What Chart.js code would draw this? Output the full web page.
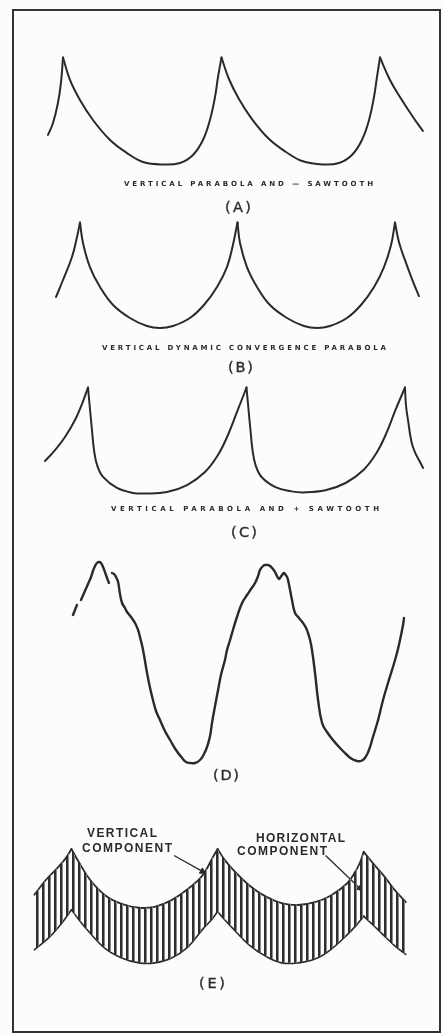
<!DOCTYPE html>
<html><head><meta charset="utf-8">
<script src="https://cdn.jsdelivr.net/npm/chart.js@4.4.1/dist/chart.umd.min.js"></script>
<style>
html,body{margin:0;padding:0;background:#fcfcfa;}
#page{position:relative;width:443px;height:1034px;overflow:hidden;background:#fcfcfa;}
#frame{position:absolute;left:12px;top:9px;width:425px;height:1020px;border:2px solid #333;border-left-width:2.5px;}
canvas{position:absolute;left:0;}
svg{position:absolute;left:0;top:0;}
.cap{font-family:"DejaVu Sans",sans-serif;font-size:7px;font-weight:bold;fill:#2a2a2a;}
.lab{font-family:"DejaVu Sans",sans-serif;font-size:14.5px;fill:#2a2a2a;stroke:#2a2a2a;stroke-width:0.35px;}
.blab{font-family:"Liberation Sans",Arial,sans-serif;font-size:12px;font-weight:bold;fill:#2a2a2a;}
</style></head><body>
<div id="page">
<div id="frame"></div>
<canvas id="cA"></canvas>
<canvas id="cB"></canvas>
<canvas id="cC"></canvas>
<canvas id="cD"></canvas>
<canvas id="cE"></canvas>
<svg width="443" height="1034" viewBox="0 0 443 1034">
  <text class="cap" x="124" y="184" dominant-baseline="central" textLength="249" lengthAdjust="spacing">VERTICAL PARABOLA AND — SAWTOOTH</text>
  <text class="lab" x="225" y="207" dominant-baseline="central" textLength="26" lengthAdjust="spacing">(A)</text>
  <text class="cap" x="102" y="348" dominant-baseline="central" textLength="284" lengthAdjust="spacing">VERTICAL DYNAMIC CONVERGENCE PARABOLA</text>
  <text class="lab" x="228" y="367" dominant-baseline="central" textLength="25" lengthAdjust="spacing">(B)</text>
  <text class="cap" x="111" y="509" dominant-baseline="central" textLength="268" lengthAdjust="spacing">VERTICAL PARABOLA AND + SAWTOOTH</text>
  <text class="lab" x="231" y="532" dominant-baseline="central" textLength="26" lengthAdjust="spacing">(C)</text>
  <text class="lab" x="213" y="775" dominant-baseline="central" textLength="26" lengthAdjust="spacing">(D)</text>
  <text class="blab" x="87" y="833" dominant-baseline="central" textLength="70" lengthAdjust="spacing">VERTICAL</text>
  <text class="blab" x="82" y="848" dominant-baseline="central" textLength="90" lengthAdjust="spacing">COMPONENT</text>
  <text class="blab" x="256" y="838" dominant-baseline="central" textLength="89" lengthAdjust="spacing">HORIZONTAL</text>
  <text class="blab" x="237" y="851" dominant-baseline="central" textLength="90" lengthAdjust="spacing">COMPONENT</text>
  <text class="lab" x="199" y="983" dominant-baseline="central" textLength="26" lengthAdjust="spacing">(E)</text>
</svg>
</div>
<script>
// ---- data: time in vertical-field periods, level as relative amplitude ----
const aTime  = [-0.095,-0.063,-0.032,-0.013,0, 0.044,0.107,0.189,0.297,0.404,0.505,0.631,0.738,0.820,0.883,0.927,0.959,0.978,1.0, 1.047,1.110,1.192,1.300,1.407,1.508,1.640,1.741,1.823,1.886,1.931,1.962,1.981,2.0, 2.063,2.126,2.208,2.271];
const aLevel = [0.276,0.388,0.575,0.762,1.0, 0.79,0.603,0.416,0.229,0.107,0.023,0.0,0.014,0.089,0.229,0.416,0.631,0.818,1.0, 0.799,0.612,0.425,0.238,0.117,0.033,0.0,0.014,0.089,0.229,0.416,0.631,0.818,1.0, 0.79,0.631,0.444,0.313];

const bTime  = [-0.152,-0.108,-0.051,-0.019,0, 0.019,0.063,0.127,0.21,0.317,0.425,0.508,0.59,0.698,0.787,0.87,0.933,0.971,1.0, 1.016,1.06,1.124,1.206,1.314,1.422,1.505,1.587,1.695,1.784,1.867,1.930,1.975,2.0, 2.025,2.063,2.108,2.152];
const bLevel = [0.294,0.455,0.673,0.863,1.0, 0.806,0.578,0.389,0.218,0.095,0.019,0,0.019,0.095,0.218,0.389,0.578,0.787,1.0, 0.806,0.578,0.389,0.218,0.095,0.019,0,0.019,0.095,0.218,0.389,0.578,0.787,1.0, 0.815,0.645,0.464,0.303];

const cTime  = [-0.271,-0.208,-0.145,-0.082,-0.038,0, 0.013,0.025,0.038,0.057,0.095,0.183,0.284,0.36,0.498,0.625,0.738,0.82,0.883,0.94,1.0, 1.013,1.025,1.038,1.057,1.095,1.183,1.284,1.36,1.498,1.625,1.738,1.82,1.883,1.94,2.0, 2.006,2.019,2.05,2.114];
const cLevel = [0.307,0.41,0.533,0.693,0.844,1.0, 0.788,0.599,0.41,0.269,0.156,0.052,0.005,0,0.014,0.08,0.203,0.363,0.552,0.769,1.0, 0.788,0.599,0.41,0.269,0.156,0.06,0.02,0.01,0.03,0.099,0.222,0.382,0.571,0.788,1.0, 0.835,0.693,0.439,0.241];

// D: measured trace, null = pen lift
const dTime  = [0.081,0.106,null,
  0.131,0.156,0.175,0.194,0.206,0.219,0.231,0.244,0.256,0.269,0.281,0.294,0.306,null,
  0.325,0.338,0.35,0.363,0.375,0.388,0.406,0.419,0.444,0.469,0.488,0.5,0.519,0.544,0.563,0.581,0.6,0.625,0.656,0.688,0.725,0.763,0.788,0.813,0.844,0.875,0.9,0.919,0.938,0.95,0.969,0.988,1.006,1.031,1.044,1.063,1.081,1.106,1.138,1.169,1.194,1.219,1.238,1.25,1.269,1.281,1.3,1.313,1.331,1.344,1.356,1.369,1.375,1.388,1.4,1.406,1.419,1.425,1.438,1.45,1.469,1.494,1.519,1.538,1.55,1.563,1.575,1.594,1.613,1.638,1.669,1.706,1.75,1.794,1.825,1.856,1.881,1.906,1.931,1.956,1.988,2.019,2.05,2.081,2.106,2.125,2.144,2.15];
const dLevel = [0.74,0.79,null,
  0.815,0.86,0.895,0.93,0.96,0.985,1.0,1.005,1.0,0.98,0.955,0.925,0.9,null,
  0.95,0.945,0.93,0.905,0.845,0.8,0.775,0.755,0.73,0.7,0.665,0.63,0.565,0.45,0.375,0.315,0.26,0.215,0.16,0.115,0.065,0.025,0.005,0,0,0.015,0.045,0.08,0.135,0.2,0.285,0.365,0.44,0.515,0.565,0.615,0.665,0.73,0.8,0.84,0.87,0.9,0.935,0.965,0.985,0.99,0.99,0.985,0.97,0.955,0.935,0.92,0.925,0.94,0.95,0.945,0.93,0.915,0.865,0.815,0.75,0.725,0.7,0.675,0.65,0.615,0.565,0.45,0.315,0.2,0.155,0.115,0.075,0.04,0.02,0.01,0.01,0.025,0.065,0.13,0.215,0.315,0.4,0.48,0.55,0.615,0.69,0.725];

// E: upper (vertical component envelope) and lower envelope of the hatched band
const eUpperTime  = [-0.254,-0.174,-0.1,-0.04,0, 0.047,0.127,0.234,0.348,0.462,0.569,0.682,0.796,0.883,0.93,0.963,1.0, 1.05,1.104,1.217,1.331,1.438,1.552,1.666,1.773,1.886,1.94,1.973,2.0, 2.067,2.134,2.207,2.288];
const eUpperLevel = [0.598,0.730,0.828,0.918,1.0, 0.893,0.73,0.59,0.516,0.484,0.492,0.549,0.648,0.746,0.836,0.918,1.0, 0.902,0.82,0.68,0.582,0.525,0.508,0.533,0.59,0.697,0.795,0.877,0.975, 0.869,0.770,0.648,0.533];
const eLowerTime  = [-0.254,-0.154,-0.074,-0.027,0, 0.047,0.127,0.234,0.348,0.462,0.569,0.682,0.796,0.903,0.963,1.0, 1.05,1.104,1.217,1.331,1.438,1.552,1.666,1.773,1.886,1.953,2.0, 2.067,2.134,2.207,2.288];
const eLowerLevel = [0.115,0.221,0.336,0.418,0.467, 0.385,0.262,0.123,0.041,0,0,0.041,0.139,0.303,0.385,0.451, 0.377,0.303,0.156,0.057,0,0,0.033,0.115,0.246,0.336,0.41, 0.328,0.246,0.156,0.074];
// pointer arrows for the E labels
const arrowVTime = [0.702,0.896], arrowVLevel = [0.943,0.803];
const arrowHTime = [1.739,1.973], arrowHLevel = [0.943,0.656];

// ---- layout (pixels) ----
const W = 443;
const INK = '#2a2a2a';
const panels = {
  A:{top:40,  height:150, x0:63, P:158.5, yBase:164.5, amp:107},
  B:{top:205, height:140, x0:80, P:157.5, yBase:328,   amp:105.5},
  C:{top:370, height:135, x0:88, P:158.5, yBase:493.5, amp:106},
  D:{top:545, height:228, x0:60, P:160,   yBase:763,   amp:200},
  E:{top:830, height:150, x0:68, P:149.5, yBase:967,   amp:122}
};

function pieces(xs, ys, splitPeaks){
  const out=[]; let cur=[];
  for(let i=0;i<xs.length;i++){
    if(ys[i]===null){ if(cur.length) out.push(cur); cur=[]; continue; }
    cur.push({x:xs[i],y:ys[i]});
    if(splitPeaks && i>0 && i<xs.length-1 && ys[i-1]!==null && ys[i+1]!==null && ys[i]>ys[i-1] && ys[i]>ys[i+1]){
      out.push(cur); cur=[{x:xs[i],y:ys[i]}];
    }
  }
  if(cur.length) out.push(cur);
  return out;
}
function strokes(xs, ys, splitPeaks, w, tension){
  return pieces(xs, ys, splitPeaks).map(p=>({data:p, borderColor:INK, borderWidth:w, tension:tension, pointRadius:0, fill:false, clip:false,
    borderCapStyle:'round', borderJoinStyle:'round'}));
}
function makePanel(id, cfg, datasets){
  const cv=document.getElementById(id);
  cv.width=W; cv.height=cfg.height; cv.style.top=cfg.top+'px';
  const xmin=(0-cfg.x0)/cfg.P, xmax=(W-cfg.x0)/cfg.P;
  const ymax=(cfg.yBase-cfg.top)/cfg.amp, ymin=(cfg.yBase-cfg.top-cfg.height)/cfg.amp;
  new Chart(cv,{type:'line',data:{datasets},options:{
    responsive:false, animation:false, events:[], devicePixelRatio:1,
    layout:{padding:0},
    plugins:{legend:{display:false},tooltip:{enabled:false},title:{display:false}},
    scales:{x:{type:'linear',min:xmin,max:xmax,display:false},y:{type:'linear',min:ymin,max:ymax,display:false}}
  }});
}

makePanel('cA', panels.A, strokes(aTime, aLevel, true, 2, 0.4));
makePanel('cB', panels.B, strokes(bTime, bLevel, true, 2, 0.4));
makePanel('cC', panels.C, strokes(cTime, cLevel, true, 2, 0.4));
makePanel('cD', panels.D, strokes(dTime, dLevel, false, 2.4, 0.45));

// hatch pattern for the horizontal-component band
const pc=document.createElement('canvas'); pc.width=6; pc.height=6;
const px=pc.getContext('2d');
px.fillStyle='#2e2e2e'; px.fillRect(0,0,2,6);
px.fillStyle='#8a8a8a'; px.fillRect(2,0,1,6);
const hatch=px.createPattern(pc,'repeat');

const eUp = eUpperTime.map((t,i)=>({x:t,y:eUpperLevel[i]}));
const eLo = eLowerTime.map((t,i)=>({x:t,y:eLowerLevel[i]}));
const eSets = [
  {data:eUp, borderWidth:0, borderColor:'rgba(0,0,0,0)', pointRadius:0, tension:0, fill:false},
  {data:eLo, borderWidth:0, borderColor:'rgba(0,0,0,0)', pointRadius:0, tension:0, fill:'-1', backgroundColor:hatch}
].concat(strokes(eUpperTime, eUpperLevel, true, 1.8, 0.4), strokes(eLowerTime, eLowerLevel, true, 1.6, 0.4));
function arrow(xs, ys, rot){
  return {data:xs.map((t,i)=>({x:t,y:ys[i]})), borderColor:INK, borderWidth:1.3, tension:0, fill:false, clip:false,
    pointRadius:[0,3.5], pointStyle:'triangle', pointRotation:rot, pointBackgroundColor:INK, pointBorderColor:INK, pointBorderWidth:1};
}
eSets.push(arrow(arrowVTime, arrowVLevel, 120), arrow(arrowHTime, arrowHLevel, 135));
makePanel('cE', panels.E, eSets);
</script>
</body></html>
